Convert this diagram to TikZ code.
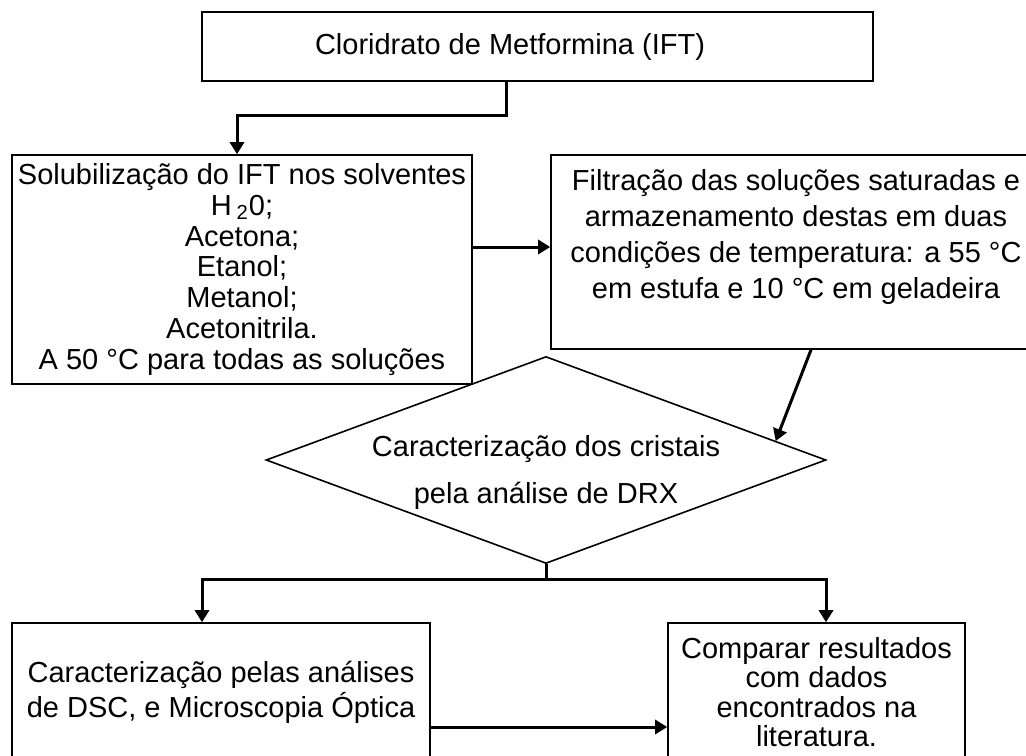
\documentclass[tikz,border=0pt]{standalone}
\usepackage{fontspec}
\setmainfont{Liberation Sans}
\usetikzlibrary{shapes.geometric,arrows.meta,calc}

\newcommand{\fs}[1]{\fontsize{14.5pt}{#1}\selectfont}

\tikzset{
  etapa/.style={draw, line width=0.8pt, align=center, inner sep=0pt},
  decisao/.style={draw, diamond, aspect=2.7, line width=0.8pt, inner sep=0pt,
    minimum width=280pt, minimum height=103.5pt},
  liga/.style={line width=1.5pt},
  seta/.style={liga, -{Triangle[length=6pt,width=7pt]}},
}

\begin{document}
\begin{tikzpicture}[x=0.5pt, y=-0.5pt]
  \useasboundingbox (0,0) rectangle (1026,755);
  \clip (0,0) rectangle (1026,755);

  \node[etapa, font=\fs{17pt}, minimum width=335.5pt, minimum height=34.5pt]
    (ift) at (537.5,46.5) {Cloridrato de Metformina (IFT)\rule{27.5pt}{0pt}};

  \node[etapa, font=\fs{15.4pt}, minimum width=230pt, minimum height=114.5pt]
    (solub) at (242,269.5) {Solubilização do IFT nos solventes\\
      H\,\textsubscript{2}0;\\
      Acetona;\\
      Etanol;\\
      Metanol;\\
      Acetonitrila.\\
      A 50 °C para todas as soluções};

  \node[etapa, font=\fs{18pt}, minimum width=245pt, minimum height=97pt]
    (filt) at (796,252) {Filtração das soluções saturadas e\\
      armazenamento destas em duas\\
      condições de temperatura: a 55 °C\\
      em estufa e 10 °C em geladeira\\ ~};

  \node[decisao] (drx) at (546,460) {};
  \node[align=center, inner sep=0pt, font=\fs{23.5pt}]
    (drxtxt) at (546,472) {Caracterização dos cristais\\pela análise de DRX};

  \node[etapa, font=\fs{17.5pt}, minimum width=209pt, minimum height=69pt]
    (dsc) at (221,692) {Caracterização pelas análises\\
      de DSC, e Microscopia Óptica};

  \node[etapa, font=\fs{14.75pt}, minimum width=148.5pt, minimum height=69pt]
    (comp) at (816.5,692) {Comparar resultados\\
      com dados\\
      encontrados na\\
      literatura.};

  \draw[seta] ([xshift=-15.75pt]ift.south) -- ++(0,34) -| ([xshift=-2.5pt]solub.north);
  \draw[seta] ([yshift=2.5pt]solub.east |- filt.west) -- ([yshift=2.5pt]filt.west);
  \draw[seta] ([xshift=7.5pt]filt.south) -- ($(drx.north)!0.818!(drx.east)$);

  \draw[liga] (drx.south) -- ++(0,15) coordinate (split);
  \draw[seta] (split) -| ([xshift=-9.5pt]dsc.north);
  \draw[seta] (split) -| ([xshift=4.75pt]comp.north);

  \draw[seta] ([yshift=-17.5pt]dsc.east) -- ([yshift=-17.5pt]dsc.east -| comp.west);
\end{tikzpicture}
\end{document}
